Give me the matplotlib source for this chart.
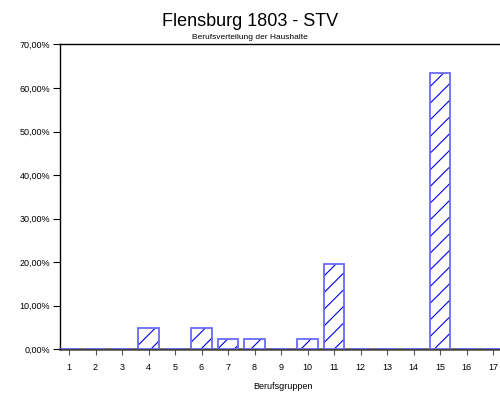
import numpy as np
import matplotlib.pyplot as plt
from matplotlib.ticker import FuncFormatter

# Berufsgruppen 1..17 und Anteile der Haushalte (in %)
gruppen = list(range(1, 18))
anteile = [0, 0, 0, 4.88, 0, 4.88, 2.44, 2.44, 0, 2.44, 19.51, 0, 0, 0, 63.41, 0, 0]

plt.rcParams['font.family'] = ['Liberation Sans', 'DejaVu Sans']
plt.rcParams['hatch.linewidth'] = 0.8

fig = plt.figure(figsize=(5, 3.97), dpi=100)
ax = fig.add_axes([0.12, 0.12, 0.89, 0.768])

# Schraffur (dunkelblau) und Umriss (hellblau) getrennt zeichnen
ax.bar(gruppen, anteile, width=0.76, color='white', edgecolor='#0000ee',
       hatch='//', linewidth=0, zorder=3)
ax.bar(gruppen, anteile, width=0.76, fill=False, edgecolor='#6a6aff',
       linewidth=1.3, zorder=4)

ax.set_xlim(0.66, 17.45)
ax.set_ylim(0, 70)
ax.set_yticks(np.arange(0, 71, 10))
ax.yaxis.set_major_formatter(FuncFormatter(lambda v, p: f'{v:.2f}%'.replace('.', ',')))
ax.set_xticks(gruppen)

ax.tick_params(axis='y', direction='out', length=5, width=0.8, labelsize=6.5, pad=2)
ax.tick_params(axis='x', direction='out', length=4, width=0.8, color='#555555',
               labelsize=6.5, pad=6)

ax.spines['right'].set_visible(False)
ax.spines['left'].set_linewidth(1.0)
ax.spines['top'].set_linewidth(1.0)
ax.spines['bottom'].set_color('#444444')
ax.spines['bottom'].set_linewidth(1.8)
ax.spines['bottom'].set_zorder(2)

ax.set_xlabel('Berufsgruppen', fontsize=6.5, labelpad=7)

fig.text(0.5, 0.945, 'Flensburg 1803 - STV', ha='center', va='center', fontsize=13)
fig.text(0.5, 0.905, 'Berufsverteilung der Haushalte', ha='center', va='center', fontsize=6)

plt.savefig('out.png', dpi=100)
